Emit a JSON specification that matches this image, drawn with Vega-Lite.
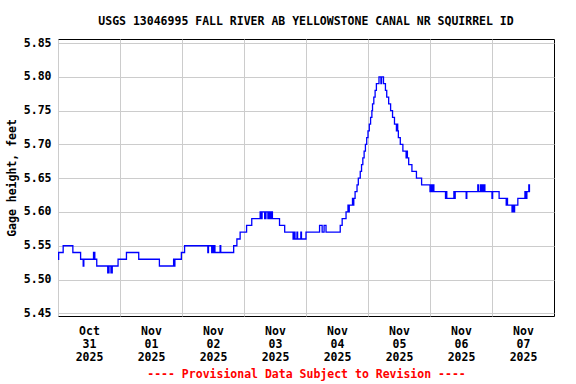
{
  "$schema": "https://vega.github.io/schema/vega-lite/v6.json",
  "autosize": {"type": "none"},
  "padding": {"left": 58, "top": 39, "right": 22, "bottom": 68},
  "width": 496,
  "height": 277,
  "background": "white",
  "title": {
    "text": "USGS 13046995 FALL RIVER AB YELLOWSTONE CANAL NR SQUIRREL ID",
    "font": "DejaVu Sans Mono",
    "fontSize": 11.5,
    "fontWeight": "bold",
    "color": "black",
    "anchor": "middle",
    "offset": 10
  },
  "config": {
    "view": {"stroke": "black", "strokeWidth": 1},
    "axis": {
      "labelFont": "DejaVu Sans Mono",
      "labelFontSize": 11.5,
      "labelFontWeight": "bold",
      "labelColor": "black",
      "titleFont": "DejaVu Sans Mono",
      "titleFontSize": 11.5,
      "titleFontWeight": "bold",
      "titleColor": "black",
      "gridColor": "#cccccc",
      "gridWidth": 1,
      "gridOpacity": 1,
      "ticks": false,
      "domain": false
    }
  },
  "data": {
    "values": [
      {"t": "2025-10-31T00:00Z", "v": 5.53},
      {"t": "2025-10-31T00:15Z", "v": 5.54},
      {"t": "2025-10-31T02:00Z", "v": 5.55},
      {"t": "2025-10-31T05:45Z", "v": 5.54},
      {"t": "2025-10-31T08:45Z", "v": 5.53},
      {"t": "2025-10-31T09:45Z", "v": 5.52},
      {"t": "2025-10-31T10:00Z", "v": 5.53},
      {"t": "2025-10-31T13:45Z", "v": 5.54},
      {"t": "2025-10-31T14:15Z", "v": 5.53},
      {"t": "2025-10-31T15:00Z", "v": 5.52},
      {"t": "2025-10-31T19:15Z", "v": 5.51},
      {"t": "2025-10-31T19:45Z", "v": 5.52},
      {"t": "2025-10-31T20:30Z", "v": 5.51},
      {"t": "2025-10-31T21:00Z", "v": 5.52},
      {"t": "2025-10-31T23:15Z", "v": 5.53},
      {"t": "2025-11-01T02:30Z", "v": 5.54},
      {"t": "2025-11-01T07:15Z", "v": 5.53},
      {"t": "2025-11-01T15:15Z", "v": 5.52},
      {"t": "2025-11-01T20:45Z", "v": 5.53},
      {"t": "2025-11-01T21:00Z", "v": 5.52},
      {"t": "2025-11-01T21:15Z", "v": 5.53},
      {"t": "2025-11-01T23:45Z", "v": 5.54},
      {"t": "2025-11-02T01:00Z", "v": 5.55},
      {"t": "2025-11-02T10:00Z", "v": 5.54},
      {"t": "2025-11-02T10:15Z", "v": 5.55},
      {"t": "2025-11-02T11:30Z", "v": 5.54},
      {"t": "2025-11-02T11:45Z", "v": 5.55},
      {"t": "2025-11-02T12:15Z", "v": 5.54},
      {"t": "2025-11-02T12:30Z", "v": 5.55},
      {"t": "2025-11-02T12:45Z", "v": 5.54},
      {"t": "2025-11-02T14:45Z", "v": 5.55},
      {"t": "2025-11-02T15:00Z", "v": 5.54},
      {"t": "2025-11-02T20:00Z", "v": 5.55},
      {"t": "2025-11-02T21:15Z", "v": 5.56},
      {"t": "2025-11-02T22:30Z", "v": 5.57},
      {"t": "2025-11-03T01:00Z", "v": 5.58},
      {"t": "2025-11-03T03:00Z", "v": 5.59},
      {"t": "2025-11-03T06:15Z", "v": 5.60},
      {"t": "2025-11-03T06:45Z", "v": 5.59},
      {"t": "2025-11-03T07:00Z", "v": 5.60},
      {"t": "2025-11-03T08:00Z", "v": 5.59},
      {"t": "2025-11-03T08:30Z", "v": 5.60},
      {"t": "2025-11-03T09:15Z", "v": 5.59},
      {"t": "2025-11-03T09:45Z", "v": 5.60},
      {"t": "2025-11-03T10:15Z", "v": 5.59},
      {"t": "2025-11-03T10:30Z", "v": 5.60},
      {"t": "2025-11-03T11:00Z", "v": 5.59},
      {"t": "2025-11-03T13:45Z", "v": 5.58},
      {"t": "2025-11-03T15:45Z", "v": 5.57},
      {"t": "2025-11-03T19:00Z", "v": 5.56},
      {"t": "2025-11-03T19:30Z", "v": 5.57},
      {"t": "2025-11-03T19:45Z", "v": 5.56},
      {"t": "2025-11-03T20:30Z", "v": 5.57},
      {"t": "2025-11-03T20:45Z", "v": 5.56},
      {"t": "2025-11-03T22:00Z", "v": 5.57},
      {"t": "2025-11-03T22:15Z", "v": 5.56},
      {"t": "2025-11-04T00:00Z", "v": 5.57},
      {"t": "2025-11-04T05:15Z", "v": 5.58},
      {"t": "2025-11-04T06:15Z", "v": 5.57},
      {"t": "2025-11-04T07:00Z", "v": 5.58},
      {"t": "2025-11-04T07:45Z", "v": 5.57},
      {"t": "2025-11-04T13:15Z", "v": 5.58},
      {"t": "2025-11-04T14:00Z", "v": 5.59},
      {"t": "2025-11-04T15:30Z", "v": 5.60},
      {"t": "2025-11-04T16:15Z", "v": 5.61},
      {"t": "2025-11-04T16:30Z", "v": 5.60},
      {"t": "2025-11-04T16:45Z", "v": 5.61},
      {"t": "2025-11-04T18:00Z", "v": 5.62},
      {"t": "2025-11-04T18:15Z", "v": 5.61},
      {"t": "2025-11-04T18:30Z", "v": 5.62},
      {"t": "2025-11-04T19:00Z", "v": 5.63},
      {"t": "2025-11-04T19:45Z", "v": 5.64},
      {"t": "2025-11-04T20:15Z", "v": 5.65},
      {"t": "2025-11-04T21:00Z", "v": 5.66},
      {"t": "2025-11-04T21:30Z", "v": 5.67},
      {"t": "2025-11-04T22:00Z", "v": 5.68},
      {"t": "2025-11-04T22:30Z", "v": 5.69},
      {"t": "2025-11-04T23:00Z", "v": 5.70},
      {"t": "2025-11-04T23:30Z", "v": 5.71},
      {"t": "2025-11-05T00:00Z", "v": 5.72},
      {"t": "2025-11-05T00:30Z", "v": 5.73},
      {"t": "2025-11-05T01:00Z", "v": 5.74},
      {"t": "2025-11-05T01:30Z", "v": 5.75},
      {"t": "2025-11-05T01:45Z", "v": 5.76},
      {"t": "2025-11-05T02:15Z", "v": 5.77},
      {"t": "2025-11-05T02:45Z", "v": 5.78},
      {"t": "2025-11-05T03:15Z", "v": 5.79},
      {"t": "2025-11-05T04:15Z", "v": 5.80},
      {"t": "2025-11-05T05:00Z", "v": 5.79},
      {"t": "2025-11-05T05:15Z", "v": 5.80},
      {"t": "2025-11-05T06:00Z", "v": 5.79},
      {"t": "2025-11-05T06:45Z", "v": 5.78},
      {"t": "2025-11-05T07:15Z", "v": 5.77},
      {"t": "2025-11-05T08:00Z", "v": 5.76},
      {"t": "2025-11-05T08:45Z", "v": 5.75},
      {"t": "2025-11-05T09:30Z", "v": 5.74},
      {"t": "2025-11-05T10:15Z", "v": 5.73},
      {"t": "2025-11-05T11:00Z", "v": 5.72},
      {"t": "2025-11-05T11:15Z", "v": 5.73},
      {"t": "2025-11-05T11:30Z", "v": 5.72},
      {"t": "2025-11-05T11:45Z", "v": 5.71},
      {"t": "2025-11-05T12:30Z", "v": 5.70},
      {"t": "2025-11-05T13:30Z", "v": 5.69},
      {"t": "2025-11-05T14:45Z", "v": 5.68},
      {"t": "2025-11-05T15:00Z", "v": 5.69},
      {"t": "2025-11-05T15:15Z", "v": 5.68},
      {"t": "2025-11-05T15:45Z", "v": 5.67},
      {"t": "2025-11-05T17:00Z", "v": 5.66},
      {"t": "2025-11-05T18:45Z", "v": 5.65},
      {"t": "2025-11-05T20:45Z", "v": 5.64},
      {"t": "2025-11-06T00:00Z", "v": 5.63},
      {"t": "2025-11-06T00:15Z", "v": 5.64},
      {"t": "2025-11-06T00:45Z", "v": 5.63},
      {"t": "2025-11-06T01:00Z", "v": 5.64},
      {"t": "2025-11-06T01:30Z", "v": 5.63},
      {"t": "2025-11-06T06:00Z", "v": 5.62},
      {"t": "2025-11-06T06:15Z", "v": 5.63},
      {"t": "2025-11-06T06:30Z", "v": 5.62},
      {"t": "2025-11-06T09:15Z", "v": 5.63},
      {"t": "2025-11-06T09:30Z", "v": 5.62},
      {"t": "2025-11-06T09:45Z", "v": 5.63},
      {"t": "2025-11-06T14:00Z", "v": 5.62},
      {"t": "2025-11-06T14:15Z", "v": 5.63},
      {"t": "2025-11-06T18:30Z", "v": 5.64},
      {"t": "2025-11-06T18:45Z", "v": 5.63},
      {"t": "2025-11-06T19:30Z", "v": 5.64},
      {"t": "2025-11-06T19:45Z", "v": 5.63},
      {"t": "2025-11-06T20:15Z", "v": 5.64},
      {"t": "2025-11-06T20:30Z", "v": 5.63},
      {"t": "2025-11-06T21:00Z", "v": 5.64},
      {"t": "2025-11-06T21:15Z", "v": 5.63},
      {"t": "2025-11-07T00:00Z", "v": 5.62},
      {"t": "2025-11-07T00:15Z", "v": 5.63},
      {"t": "2025-11-07T02:45Z", "v": 5.62},
      {"t": "2025-11-07T05:30Z", "v": 5.61},
      {"t": "2025-11-07T05:45Z", "v": 5.62},
      {"t": "2025-11-07T06:00Z", "v": 5.61},
      {"t": "2025-11-07T07:45Z", "v": 5.60},
      {"t": "2025-11-07T08:00Z", "v": 5.61},
      {"t": "2025-11-07T08:30Z", "v": 5.60},
      {"t": "2025-11-07T08:45Z", "v": 5.61},
      {"t": "2025-11-07T10:00Z", "v": 5.62},
      {"t": "2025-11-07T12:45Z", "v": 5.63},
      {"t": "2025-11-07T13:15Z", "v": 5.62},
      {"t": "2025-11-07T13:30Z", "v": 5.63},
      {"t": "2025-11-07T14:15Z", "v": 5.64},
      {"t": "2025-11-07T14:30Z", "v": 5.63},
      {"t": "2025-11-07T14:45Z", "v": 5.63}
    ]
  },
  "mark": {"type": "line", "interpolate": "step-after", "color": "#0000ff", "strokeWidth": 1.3, "clip": true},
  "encoding": {
    "x": {
      "field": "t",
      "type": "temporal",
      "scale": {
        "type": "utc",
        "domain": [
          {"year": 2025, "month": 10, "date": 31, "utc": true},
          {"year": 2025, "month": 11, "date": 8, "utc": true}
        ]
      },
      "axis": {
        "title": "---- Provisional Data Subject to Revision ----",
        "titleColor": "#ff0000",
        "titlePadding": 6,
        "values": [
          {"year": 2025, "month": 10, "date": 31, "utc": true},
          {"year": 2025, "month": 11, "date": 1, "utc": true},
          {"year": 2025, "month": 11, "date": 2, "utc": true},
          {"year": 2025, "month": 11, "date": 3, "utc": true},
          {"year": 2025, "month": 11, "date": 4, "utc": true},
          {"year": 2025, "month": 11, "date": 5, "utc": true},
          {"year": 2025, "month": 11, "date": 6, "utc": true},
          {"year": 2025, "month": 11, "date": 7, "utc": true}
        ],
        "labelExpr": "[utcFormat(datum.value, '%b'), utcFormat(datum.value, '%d'), utcFormat(datum.value, '%Y')]",
        "labelOffset": 31,
        "labelFlush": false,
        "labelOverlap": false,
        "labelBound": false,
        "labelPadding": 9,
        "labelLineHeight": 13,
        "labelAlign": "center"
      }
    },
    "y": {
      "field": "v",
      "type": "quantitative",
      "scale": {"domain": [5.446, 5.856], "nice": false, "zero": false},
      "axis": {
        "title": "Gage height, feet",
        "titlePadding": 6,
        "values": [5.45, 5.5, 5.55, 5.6, 5.65, 5.7, 5.75, 5.8, 5.85],
        "format": ".2f",
        "labelPadding": 7,
        "labelOverlap": false,
        "labelFlush": false
      }
    }
  }
}
